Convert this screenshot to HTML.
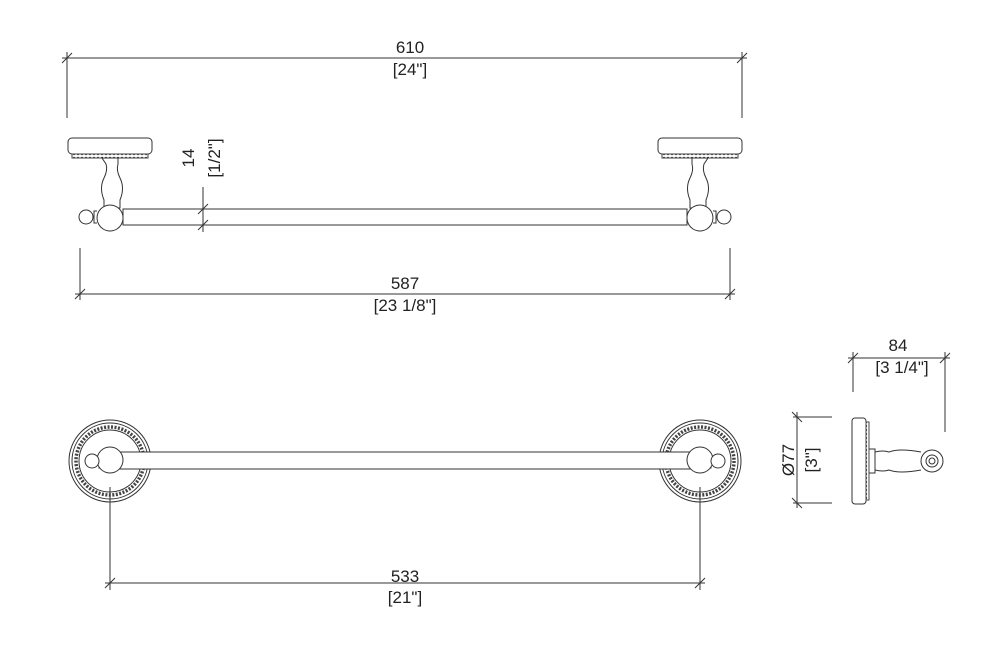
<!DOCTYPE html>
<html><head><style>body{margin:0;background:#fff}svg{display:block}text{font-family:"Liberation Sans",sans-serif;font-size:17px;fill:#222;stroke:none}</style></head><body>
<svg width="1000" height="647" viewBox="0 0 1000 647" xmlns="http://www.w3.org/2000/svg" fill="none" stroke="#333" stroke-width="1">
<defs>
<pattern id="dots" width="4" height="4" patternUnits="userSpaceOnUse"><circle cx="2" cy="2" r="1.2" fill="#444" stroke="none"/></pattern>
<g id="rose"><circle r="41"/><circle r="38"/><circle r="34" stroke-width="3.5" stroke-dasharray="2 1.5" stroke="#444"/><circle r="31"/></g>
</defs>
<!-- top view -->
<line x1="67" y1="52" x2="67" y2="118"/><line x1="742" y1="52" x2="742" y2="118"/>
<line x1="62" y1="58" x2="747" y2="58"/>
<line x1="62" y1="63" x2="72" y2="53"/><line x1="737" y1="63" x2="747" y2="53"/>
<text x="410" y="53" text-anchor="middle">610</text><text x="410" y="75" text-anchor="middle">[24"]</text>
<g id="topL">
<rect x="68" y="138" width="84" height="16" rx="4"/>
<rect x="72" y="154" width="76" height="4" fill="url(#dots)" stroke="#444"/>
<path d="M102 158 h16 v6 q-2 6 2 14 q5 10 0 22 v8 h-16 v-8 q-5 -12 0 -22 q4 -8 2 -14z"/>
<path d="M104 206 a13 13 0 1 0 0.1 0z" fill="#fff" transform="translate(6 -1)"/>
<path d="M97 211 h-3 v12 h3"/>
<circle cx="86" cy="217" r="7"/>
</g>
<g transform="translate(810 0) scale(-1 1)"><use href="#topL"/></g>
<rect x="123" y="209" width="564" height="16"/>
<line x1="203" y1="187" x2="203" y2="232"/>
<line x1="198" y1="214" x2="208" y2="204"/><line x1="198" y1="230" x2="208" y2="220"/>
<text transform="translate(194 158) rotate(-90)" text-anchor="middle">14</text>
<text transform="translate(220 158) rotate(-90)" text-anchor="middle">[1/2"]</text>
<line x1="80" y1="248" x2="80" y2="300"/><line x1="730" y1="248" x2="730" y2="300"/>
<line x1="75" y1="294" x2="735" y2="294"/>
<line x1="75" y1="299" x2="85" y2="289"/><line x1="725" y1="299" x2="735" y2="289"/>
<text x="405" y="289" text-anchor="middle">587</text><text x="405" y="311" text-anchor="middle">[23 1/8"]</text>
<!-- front view -->
<use href="#rose" x="110" y="461"/><use href="#rose" x="700" y="461"/>
<rect x="120" y="452" width="570" height="17" fill="#fff"/>
<path d="M99 454 h4 v14 h-4z" fill="#fff"/>
<circle cx="110" cy="460" r="13" fill="#fff"/>
<circle cx="92" cy="461" r="7" fill="#fff"/>
<path d="M711 454 h-4 v14 h4z" fill="#fff"/>
<circle cx="700" cy="460" r="13" fill="#fff"/>
<circle cx="718" cy="461" r="7" fill="#fff"/>
<line x1="110" y1="487" x2="110" y2="590"/><line x1="700" y1="487" x2="700" y2="590"/>
<line x1="105" y1="583" x2="705" y2="583"/>
<line x1="105" y1="588" x2="115" y2="578"/><line x1="695" y1="588" x2="705" y2="578"/>
<text x="405" y="582" text-anchor="middle">533</text><text x="405" y="603" text-anchor="middle">[21"]</text>
<!-- side view -->
<rect x="852" y="418" width="14" height="86" rx="3"/>
<rect x="866" y="422" width="3" height="78" fill="url(#dots)" stroke="#444"/>
<path d="M869 449 h6 v24 h-6 M875 452 q8 -2 14 0 q10 -4 32 0 M875 470 q8 2 14 0 q10 4 32 0"/>
<circle cx="932" cy="461" r="11" fill="#fff"/><circle cx="932" cy="461" r="6"/><circle cx="932" cy="461" r="3"/>
<line x1="853" y1="352" x2="853" y2="392"/><line x1="945" y1="352" x2="945" y2="432"/>
<line x1="848" y1="358" x2="950" y2="358"/>
<line x1="848" y1="363" x2="858" y2="353"/><line x1="940" y1="363" x2="950" y2="353"/>
<text x="898" y="351" text-anchor="middle">84</text><text x="902" y="373" text-anchor="middle">[3 1/4"]</text>
<line x1="793" y1="417" x2="832" y2="417"/><line x1="793" y1="503" x2="832" y2="503"/>
<line x1="797" y1="412" x2="797" y2="508"/>
<line x1="792" y1="412" x2="802" y2="422"/><line x1="792" y1="498" x2="802" y2="508"/>
<text transform="translate(794 460) rotate(-90)" text-anchor="middle">Ø77</text>
<text transform="translate(817 460) rotate(-90)" text-anchor="middle">[3"]</text>
</svg>
</body></html>
